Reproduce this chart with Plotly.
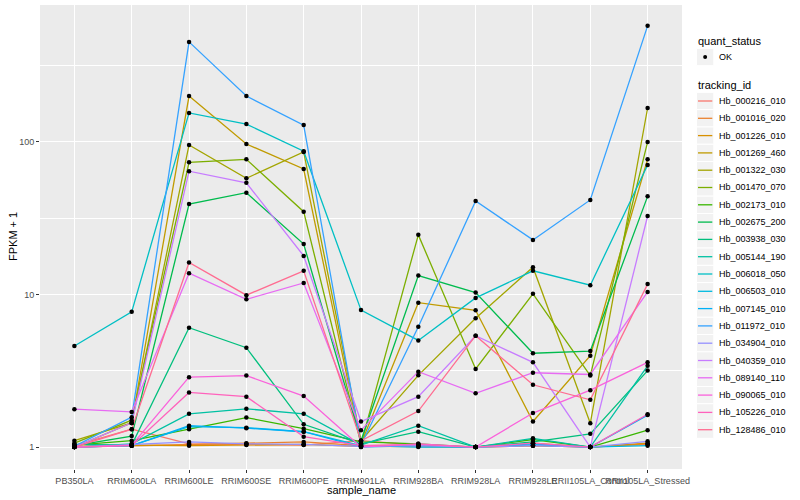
import plotly.graph_objects as go

samples = ["PB350LA", "RRIM600LA", "RRIM600LE", "RRIM600SE", "RRIM600PE", "RRIM901LA",
           "RRIM928BA", "RRIM928LA", "RRIM928LE", "RRII105LA_Control", "RRII105LA_Stressed"]

tracking_ids = ["Hb_000216_010", "Hb_001016_020", "Hb_001226_010", "Hb_001269_460", "Hb_001322_030",
                "Hb_001470_070", "Hb_002173_010", "Hb_002675_200", "Hb_003938_030", "Hb_005144_190",
                "Hb_006018_050", "Hb_006503_010", "Hb_007145_010", "Hb_011972_010", "Hb_034904_010",
                "Hb_040359_010", "Hb_089140_110", "Hb_090065_010", "Hb_105226_010", "Hb_128486_010"]

colors = ["#F8766D", "#EA8331", "#D89000", "#C09B00", "#A3A500", "#7CAE00", "#39B600", "#00BB4E",
          "#00BF7D", "#00C1A3", "#00BFC4", "#00BAE0", "#00B0F6", "#35A2FF", "#9590FF", "#C77CFF",
          "#E76BF3", "#FA62DB", "#FF62BC", "#FF6C91"]

quant_status = ["OK"]

# FPKM + 1 per tracking_id, in sample order
hb_000216 = [1.02, 1.31, 1.05, 1.04, 1.03, 1.10, 1.03, 1.00, 1.02, 1.00, 1.04]
hb_001016 = [1.00, 1.02, 1.04, 1.06, 1.08, 1.02, 1.03, 1.00, 1.06, 1.00, 1.05]
hb_001226 = [1.01, 1.03, 1.02, 1.03, 1.04, 1.01, 1.01, 1.00, 1.02, 1.00, 1.06]
hb_001269 = [1.00, 1.44, 200.0, 97.0, 66.5, 1.05, 8.84, 7.88, 1.47, 3.97, 77.0]
hb_001322 = [1.10, 1.44, 95.6, 57.8, 86.0, 1.10, 2.95, 6.98, 15.1, 1.43, 167.0]
hb_001470 = [1.06, 1.50, 73.6, 77.0, 34.9, 1.05, 24.6, 3.25, 10.1, 2.94, 100.0]
hb_002173 = [1.03, 1.10, 1.31, 1.56, 1.32, 1.08, 1.05, 1.00, 1.12, 1.00, 1.29]
hb_002675 = [1.02, 1.18, 39.2, 46.5, 21.4, 1.10, 13.3, 10.3, 4.12, 4.26, 44.0]
hb_003938 = [1.04, 1.03, 6.06, 4.48, 1.41, 1.05, 1.26, 1.00, 1.08, 1.22, 3.17]
hb_005144 = [1.00, 1.05, 1.65, 1.78, 1.65, 1.03, 1.38, 1.00, 1.14, 1.00, 3.41]
hb_006018 = [4.60, 7.70, 155.0, 131.0, 87.0, 7.90, 5.00, 9.50, 14.3, 11.5, 70.6]
hb_006503 = [1.00, 1.02, 1.36, 1.34, 1.26, 1.02, 1.00, 1.00, 1.03, 1.00, 1.02]
hb_007145 = [1.00, 1.02, 1.38, 1.33, 1.26, 1.00, 1.02, 1.00, 1.05, 1.00, 1.62]
hb_011972 = [1.01, 1.57, 453.0, 200.0, 129.0, 1.03, 6.15, 41.0, 22.8, 41.7, 577.0]
hb_034904 = [1.00, 1.04, 1.08, 1.05, 1.04, 1.01, 1.02, 1.00, 1.02, 1.00, 1.09]
hb_040359 = [1.00, 1.44, 64.3, 54.0, 17.9, 1.47, 2.14, 5.37, 3.59, 1.00, 32.7]
hb_089140 = [1.77, 1.70, 13.8, 9.3, 11.9, 1.29, 3.12, 2.25, 3.07, 2.99, 10.4]
hb_090065 = [1.00, 1.03, 2.87, 2.94, 2.16, 1.00, 1.05, 1.00, 1.67, 2.36, 3.59]
hb_105226 = [1.00, 1.02, 2.28, 2.14, 1.17, 1.02, 1.04, 1.00, 1.06, 1.00, 1.64]
hb_128486 = [1.00, 1.31, 16.2, 9.9, 14.3, 1.10, 1.72, 5.37, 2.56, 2.04, 11.7]

series = [hb_000216, hb_001016, hb_001226, hb_001269, hb_001322, hb_001470, hb_002173, hb_002675,
          hb_003938, hb_005144, hb_006018, hb_006503, hb_007145, hb_011972, hb_034904, hb_040359,
          hb_089140, hb_090065, hb_105226, hb_128486]

y_tick_vals = [1, 10, 100]
y_tick_text = ["1", "10", "100"]
y_minor_vals = [3.1623, 31.623, 316.23]

FONT = "Liberation Sans, Arial, sans-serif"

# figure geometry (pixels)
W, H = 800, 500
ML, MR, MT, MB = 40, 118, 5, 31
PW, PH = W - ML - MR, H - MT - MB


def px(xp):
    return (xp - ML) / PW


def py(yp):
    return (H - MB - yp) / PH


fig = go.Figure()
for tid, col, vals in zip(tracking_ids, colors, series):
    fig.add_trace(go.Scatter(
        x=samples, y=vals, mode="lines", name=tid,
        line=dict(color=col, width=1.3), showlegend=False))

all_x = [s for vals in series for s in samples]
all_y = [v for vals in series for v in vals]
fig.add_trace(go.Scatter(
    x=all_x, y=all_y, mode="markers", name=quant_status[0],
    marker=dict(color="black", size=4.5, symbol="circle"), showlegend=False))

shapes = []
annotations = []

# manual ggplot-style legends
KEY = 17.3
kx0 = 696.5
tx = 717
# quant_status
annotations.append(dict(text="quant_status", x=px(696), y=py(41), xref="paper", yref="paper",
                        xanchor="left", yanchor="middle", showarrow=False,
                        font=dict(size=11, color="black", family=FONT)))
qc = 57
shapes.append(dict(type="rect", xref="paper", yref="paper",
                   x0=px(kx0), x1=px(kx0 + KEY), y0=py(qc - KEY / 2), y1=py(qc + KEY / 2),
                   fillcolor="#F2F2F2", line=dict(color="white", width=1), layer="above"))
shapes.append(dict(type="circle", xref="paper", yref="paper",
                   x0=px(kx0 + KEY / 2 - 2), x1=px(kx0 + KEY / 2 + 2), y0=py(qc - 2), y1=py(qc + 2),
                   fillcolor="black", line=dict(color="black", width=0), layer="above"))
annotations.append(dict(text=quant_status[0], x=px(tx), y=py(qc), xref="paper", yref="paper",
                        xanchor="left", yanchor="middle", showarrow=False,
                        font=dict(size=9, color="black", family=FONT)))
# tracking_id
annotations.append(dict(text="tracking_id", x=px(696), y=py(85), xref="paper", yref="paper",
                        xanchor="left", yanchor="middle", showarrow=False,
                        font=dict(size=11, color="black", family=FONT)))
c0 = 101
for i, (tid, col) in enumerate(zip(tracking_ids, colors)):
    cy = c0 + i * KEY
    shapes.append(dict(type="rect", xref="paper", yref="paper",
                       x0=px(kx0), x1=px(kx0 + KEY), y0=py(cy - KEY / 2), y1=py(cy + KEY / 2),
                       fillcolor="#F2F2F2", line=dict(color="white", width=1), layer="above"))
    shapes.append(dict(type="line", xref="paper", yref="paper",
                       x0=px(kx0 + 1.5), x1=px(kx0 + KEY - 1.5), y0=py(cy), y1=py(cy),
                       line=dict(color=col, width=1.3), layer="above"))
    annotations.append(dict(text=tid, x=px(tx), y=py(cy), xref="paper", yref="paper",
                            xanchor="left", yanchor="middle", showarrow=False,
                            font=dict(size=9, color="black", family=FONT)))

# axis titles
annotations.append(dict(text="sample_name", x=0.5, y=py(490), xref="paper", yref="paper",
                        xanchor="center", yanchor="middle", showarrow=False,
                        font=dict(size=11, color="black", family=FONT)))
annotations.append(dict(text="FPKM + 1", x=px(13), y=0.5, xref="paper", yref="paper",
                        xanchor="center", yanchor="middle", showarrow=False, textangle=-90,
                        font=dict(size=11, color="black", family=FONT)))

fig.update_layout(
    width=W, height=H,
    margin=dict(l=ML, r=MR, t=MT, b=MB),
    paper_bgcolor="white", plot_bgcolor="#EBEBEB",
    font=dict(family=FONT, size=9, color="black"),
    showlegend=False,
    shapes=shapes, annotations=annotations,
)

fig.update_xaxes(
    type="category", categoryorder="array", categoryarray=samples,
    range=[-0.6, 10.6], showgrid=True, gridcolor="white", gridwidth=1.1,
    zeroline=False, showline=False,
    ticks="outside", ticklen=3, tickcolor="#333333", tickwidth=1,
    tickangle=0, tickfont=dict(size=9, color="#4D4D4D", family=FONT),
    automargin=False)

fig.update_yaxes(
    type="log", range=[-0.144, 2.898],
    tickmode="array", tickvals=y_tick_vals, ticktext=y_tick_text,
    showgrid=True, gridcolor="white", gridwidth=1.1,
    minor=dict(tickmode="array", tickvals=y_minor_vals, showgrid=True,
               gridcolor="white", gridwidth=0.5, ticks=""),
    zeroline=False, showline=False,
    ticks="outside", ticklen=3, tickcolor="#333333", tickwidth=1,
    tickfont=dict(size=9, color="#4D4D4D", family=FONT),
    automargin=False)

fig.write_html("out.html",
               config={"displayModeBar": False},
               post_script="document.body.style.margin='0';document.body.style.overflow='hidden';")
